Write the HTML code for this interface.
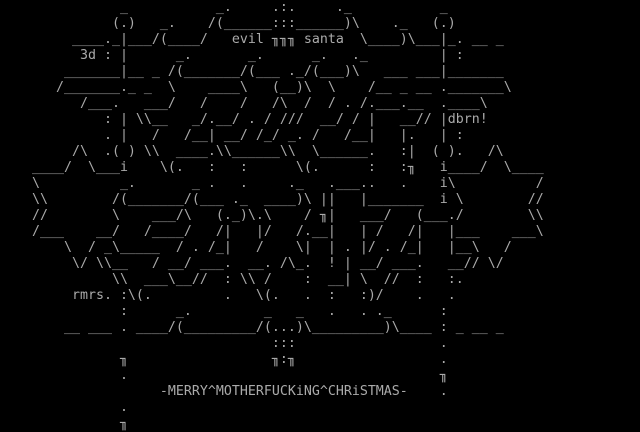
<!DOCTYPE html>
<html><head><meta charset="utf-8"><style>
html,body{margin:0;padding:0;background:#000;width:640px;height:432px;overflow:hidden}
pre{margin:0;padding:0;font-family:"DejaVu Sans Mono","Liberation Mono",monospace;font-size:13.29px;line-height:16px;color:#aaaaaa;white-space:pre}
</style></head><body><pre>               _           _.     .:.     ._           _
              (.)   _.    /(______:::______)\    ._   (.)
         ____._|___/(____/   evil ╖╖╖ santa  \____)\___|_. __ _
          3d : |      _.       _.      _.   ._         | :
        _______|__ _ /(_______/(___ ._/(___)\   ___ ___|_______
       /_______._ _  \    ____\   (__)\  \    /__ _ __ ._______\
          /___.   ___/   /    /   /\  /  / . /.___.__  .____\
             : | \\__   _/.__/ . / ///  __/ / |   __// |dbrn!
             . |   /   /__| __/ /_/ _. /   /__|   |.   | :
         /\  .( ) \\  ____.\\______\\  \______.   :|  ( ).   /\
    ____/  \___i    \(.   :   :      \(.      :   :╖   i____/  \____
    \          _.       _ .   .     ._   .___..   .    i\          /
    \\        /(_______/(___ ._  ____)\ ||   |_______  i \        //
    //        \    ___/\   (._)\.\    / ╖|   ___/   (___./        \\
    /___    __/   /____/   /|   |/   /.__|   | /   /|   |___    ___\
        \  / _\_____  / . /_|   /    \|  | . |/ . /_|   |__\   /
         \/ \\__   / __/ ___.  __. /\_.  ! | __/ ___.   __// \/
              \\  ___\__//  : \\ /    :  __| \  //  :   :.
         rmrs. :\(.         .   \(.   .  :   :)/    .   .
               :      _.         _   _   .   . ._      :
        __ ___ . ____/(_________/(...)\_________)\____ : _ __ _
                                  :::                  .
               ╖                  ╖:╖                  .
               .                                       ╖
                    -MERRY^MOTHERFUCKiNG^CHRiSTMAS-    .
               .
               ╖</pre></body></html>
